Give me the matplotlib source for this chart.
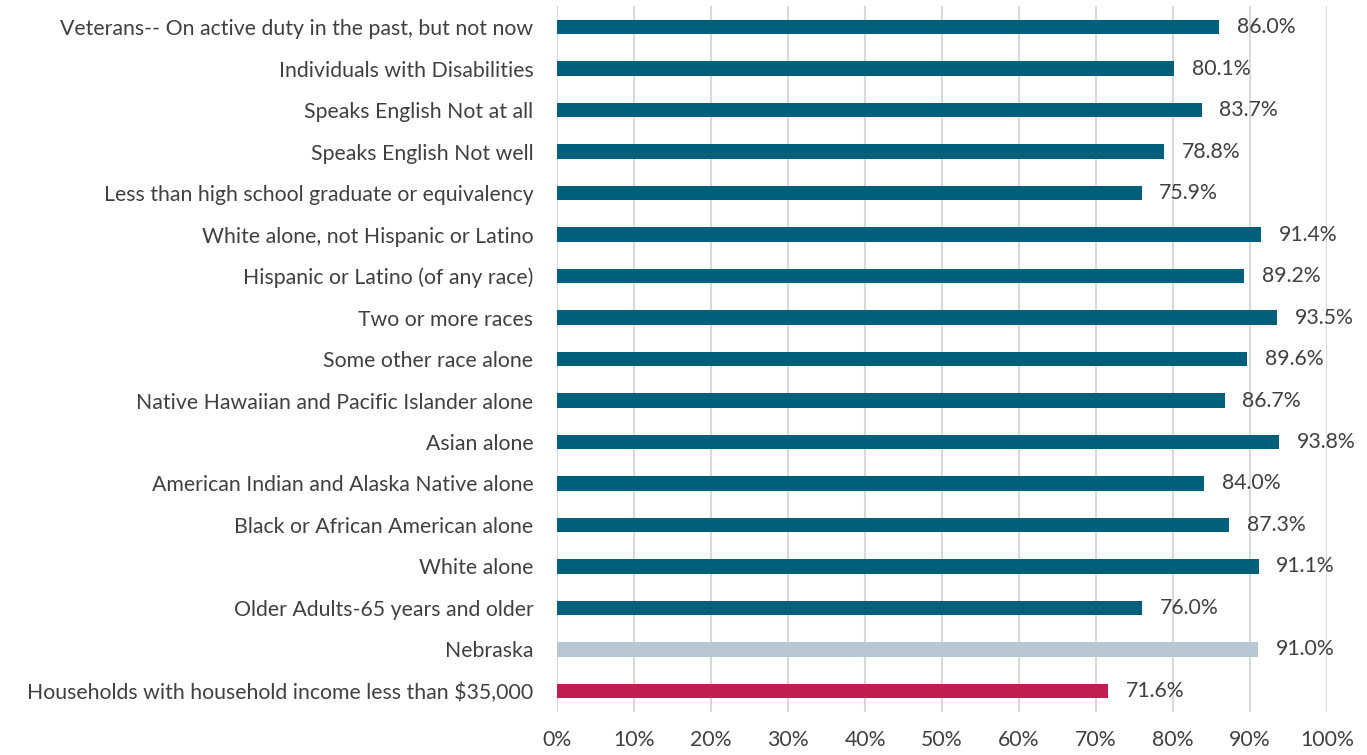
import matplotlib.pyplot as plt
from matplotlib.ticker import FuncFormatter

categorias = [
    "Veterans-- On active duty in the past, but not now",
    "Individuals with Disabilities",
    "Speaks English Not at all",
    "Speaks English Not well",
    "Less than high school graduate or equivalency",
    "White alone, not Hispanic or Latino",
    "Hispanic or Latino (of any race)",
    "Two or more races",
    "Some other race alone",
    "Native Hawaiian and Pacific Islander alone",
    "Asian alone",
    "American Indian and Alaska Native alone",
    "Black or African American alone",
    "White alone",
    "Older Adults-65 years and older",
    "Nebraska",
    "Households with household income less than $35,000",
]
valores = [86.0, 80.1, 83.7, 78.8, 75.9, 91.4, 89.2, 93.5, 89.6, 86.7, 93.8, 84.0, 87.3, 91.1, 76.0, 91.0, 71.6]

cores = ["#005F7A"] * 15 + ["#B9C7D2", "#BE1E50"]
texto = "#404040"

plt.rcParams['font.family'] = ['Lato', 'DejaVu Sans']

fig = plt.figure(figsize=(13.67, 7.55), dpi=100)
ax = fig.add_axes([0.4075, 0.0573, 0.5633, 0.9344])

y = list(range(len(categorias)))
ax.barh(y, valores, height=0.34, color=cores, zorder=3)
for yi, v in zip(y, valores):
    ax.text(v + 2.3, yi, "{:.1f}%".format(v), va='center', ha='left', fontsize=15.3, color=texto)

ax.set_ylim(len(categorias) - 0.5, -0.5)
ax.set_xlim(0, 100)
ax.set_xticks(range(0, 101, 10))
ax.xaxis.set_major_formatter(FuncFormatter(lambda x, p: "{:.0f}%".format(x)))
ax.set_yticks(y)
ax.set_yticklabels(categorias)
ax.tick_params(axis='both', length=0, labelsize=15.3, labelcolor=texto)
ax.tick_params(axis='y', pad=17)
ax.tick_params(axis='x', pad=13)
ax.grid(axis='x', color='#D9D9D9', linewidth=1.5, zorder=0)
for s in ax.spines.values():
    s.set_visible(False)

fig.savefig("out.png", dpi=100, facecolor='white')
